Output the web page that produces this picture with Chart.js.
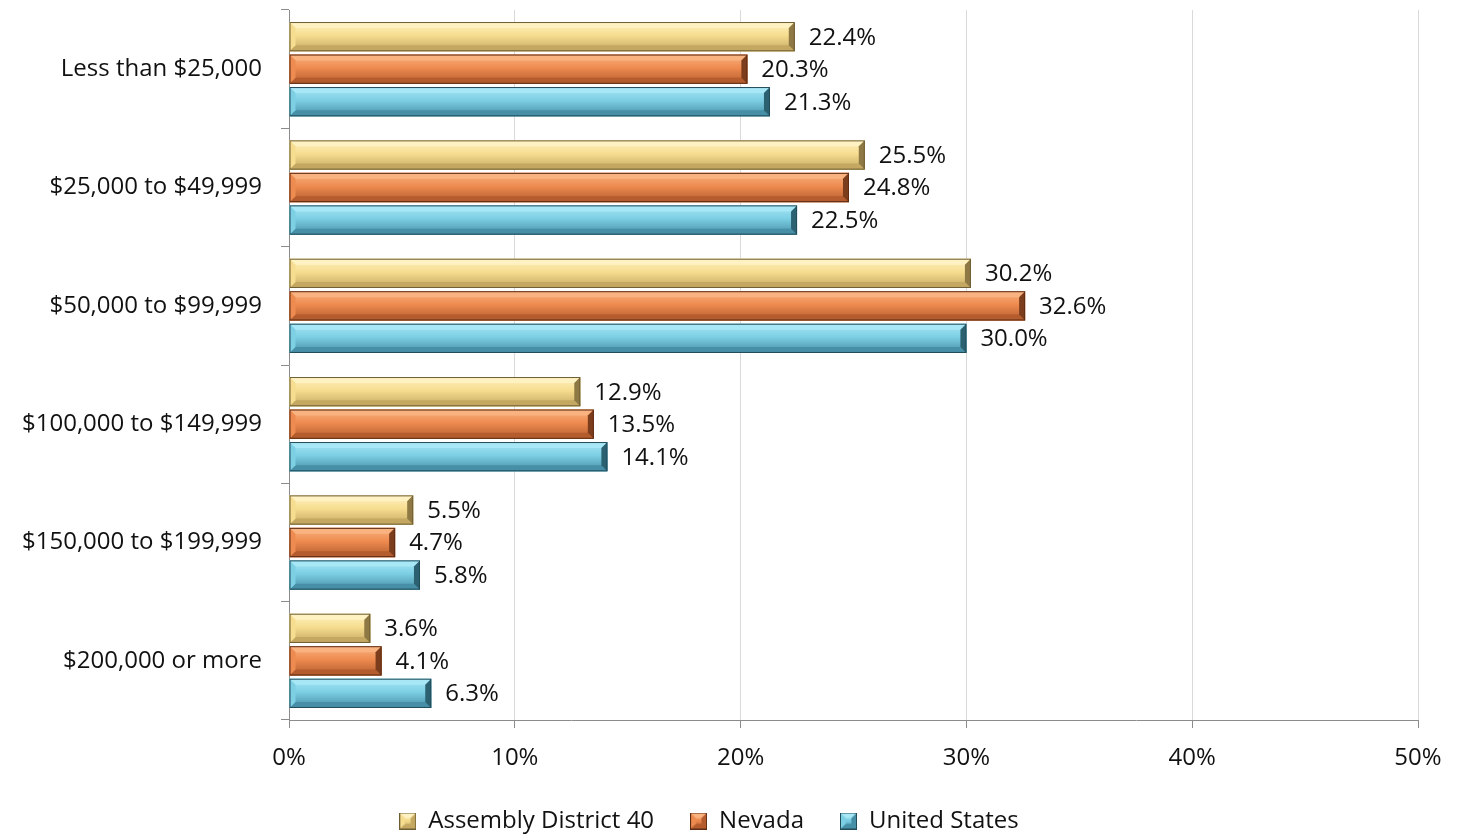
<!DOCTYPE html>
<html>
<head>
    <title>Household Income</title>
    <script src="https://cdn.jsdelivr.net/npm/chart.js"></script>
    <style>
        body { margin: 0; background: #fff; }
        #wrap { width: 1460px; height: 837px; }
    </style>
</head>
<body>
<div id="wrap"><canvas id="incomeChart"></canvas></div>
<script>
    var categories = ['Less than $25,000', '$25,000 to $49,999', '$50,000 to $99,999',
        '$100,000 to $149,999', '$150,000 to $199,999', '$200,000 or more'];
    var seriesNames = ['Assembly District 40', 'Nevada', 'United States'];
    var district40 = [22.4, 25.5, 30.2, 12.9, 5.5, 3.6];
    var nevada = [20.3, 24.8, 32.6, 13.5, 4.7, 4.1];
    var unitedStates = [21.3, 22.5, 30.0, 14.1, 5.8, 6.3];
    var xTicks = [0, 10, 20, 30, 40, 50];

    var FONT = 'Open Sans';
    var FONT_SIZE = 24;

    // base / light / dark / end / outline for the bevelled look
    var palettes = [
        { base: '#F6DD8F', light: '#FFF2C2', dark: '#C4A862', end: '#8E7843', line: '#6E5D33' },
        { base: '#EE8B50', light: '#F9B381', dark: '#B45C2E', end: '#7C3D1C', line: '#5E2D14' },
        { base: '#7DCFE4', light: '#A8E7F6', dark: '#468FA6', end: '#2C6172', line: '#224C5A' }
    ];

    function bevel(ctx, x0, x1, yT, yB, p) {
        var b = Math.min(6, (yB - yT) / 3, Math.abs(x1 - x0) / 2);
        var g = ctx.createLinearGradient(0, yT, 0, yB);
        g.addColorStop(0, p.light);
        g.addColorStop(0.45, p.base);
        g.addColorStop(1, p.dark);
        ctx.fillStyle = g;
        ctx.fillRect(x0, yT, x1 - x0, yB - yT);
        // top highlight
        ctx.fillStyle = p.light;
        ctx.beginPath();
        ctx.moveTo(x0, yT); ctx.lineTo(x1, yT); ctx.lineTo(x1 - b, yT + b); ctx.lineTo(x0 + b, yT + b);
        ctx.closePath(); ctx.fill();
        // bottom shade
        ctx.fillStyle = p.dark;
        ctx.beginPath();
        ctx.moveTo(x0, yB); ctx.lineTo(x1, yB); ctx.lineTo(x1 - b, yB - b); ctx.lineTo(x0 + b, yB - b);
        ctx.closePath(); ctx.fill();
        // left edge
        ctx.fillStyle = p.base;
        ctx.beginPath();
        ctx.moveTo(x0, yT); ctx.lineTo(x0 + b, yT + b); ctx.lineTo(x0 + b, yB - b); ctx.lineTo(x0, yB);
        ctx.closePath(); ctx.fill();
        // right end
        ctx.fillStyle = p.end;
        ctx.beginPath();
        ctx.moveTo(x1, yT); ctx.lineTo(x1 - b, yT + b); ctx.lineTo(x1 - b, yB - b); ctx.lineTo(x1, yB);
        ctx.closePath(); ctx.fill();
        ctx.strokeStyle = p.line;
        ctx.lineWidth = 1;
        ctx.strokeRect(x0 + 0.5, yT + 0.5, x1 - x0 - 1, yB - yT - 1);
    }

    function legendIcon(p) {
        var c = document.createElement('canvas');
        c.width = 17; c.height = 17;
        var cx = c.getContext('2d');
        bevel(cx, 0, 17, 0, 17, Object.assign({}, p, { end: p.dark }));
        return c;
    }

    var bevelAndLabels = {
        id: 'bevelAndLabels',
        afterDatasetsDraw: function (chart) {
            var ctx = chart.ctx;
            ctx.save();
            chart.data.datasets.forEach(function (ds, i) {
                var meta = chart.getDatasetMeta(i);
                meta.data.forEach(function (el, j) {
                    var pr = el.getProps(['x', 'y', 'base', 'height'], true);
                    var yT = pr.y - pr.height / 2, yB = pr.y + pr.height / 2;
                    bevel(ctx, pr.base, pr.x, yT, yB, palettes[i]);
                    ctx.fillStyle = '#111';
                    ctx.font = FONT_SIZE + 'px "' + FONT + '"';
                    ctx.textAlign = 'left';
                    ctx.textBaseline = 'middle';
                    ctx.fillText(ds.data[j].toFixed(1) + '%', pr.x + 14, pr.y + 1);
                });
            });
            ctx.restore();
        }
    };

    var seriesData = [district40, nevada, unitedStates];
    var datasets = seriesData.map(function (vals, i) {
        return {
            label: seriesNames[i],
            data: vals,
            backgroundColor: palettes[i].base,
            borderColor: palettes[i].line,
            borderWidth: 0,
            pointStyle: legendIcon(palettes[i]),
            categoryPercentage: 0.824,
            barPercentage: 0.9
        };
    });

    var ctx = document.getElementById('incomeChart').getContext('2d');
    var chart = new Chart(ctx, {
        type: 'bar',
        data: { labels: categories, datasets: datasets },
        plugins: [bevelAndLabels],
        options: {
            indexAxis: 'y',
            responsive: true,
            maintainAspectRatio: false,
            animation: false,
            layout: { padding: { top: 10, right: 42, left: 0, bottom: 0 } },
            scales: {
                x: {
                    min: 0,
                    max: 50,
                    afterBuildTicks: function (scale) {
                        scale.ticks = xTicks.map(function (v) { return { value: v }; });
                    },
                    afterFit: function (scale) { scale.height = 53; },
                    ticks: {
                        callback: function (v) { return v + '%'; },
                        font: { family: FONT, size: FONT_SIZE },
                        color: '#111',
                        padding: 16,
                        maxRotation: 0
                    },
                    grid: { color: '#d9d9d9', tickColor: '#8c8c8c', tickLength: 8 },
                    border: { color: '#8c8c8c' }
                },
                y: {
                    afterFit: function (scale) {
                        scale.width = 289;
                        scale.paddingTop = 0;
                        scale.paddingBottom = 0;
                    },
                    ticks: {
                        font: { family: FONT, size: FONT_SIZE },
                        color: '#111',
                        padding: 19
                    },
                    grid: { offset: true, drawOnChartArea: false, tickColor: '#8c8c8c', tickLength: 8 },
                    border: { color: '#8c8c8c' }
                }
            },
            plugins: {
                tooltip: { enabled: false },
                legend: {
                    position: 'bottom',
                    maxHeight: 64,
                    labels: {
                        usePointStyle: true,
                        boxWidth: 17,
                        boxHeight: 17,
                        padding: 36,
                        color: '#111',
                        font: { family: FONT, size: FONT_SIZE }
                    }
                }
            }
        }
    });
</script>
</body>
</html>
